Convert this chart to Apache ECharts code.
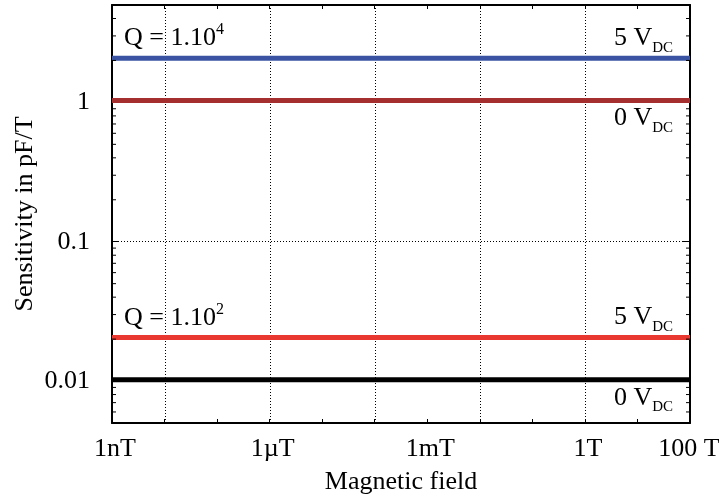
<!DOCTYPE html>
<html>
<head>
<meta charset="utf-8">
<script src="https://cdn.jsdelivr.net/npm/echarts@6/dist/echarts.min.js"></script>
<style>
html,body{margin:0;padding:0;background:#fff;}
#chart{width:719px;height:501px;}
</style>
</head>
<body>
<div id="chart"></div>
<script>
// ---- data ----
const xRange = [1e-9, 1e2];                 // magnetic field span (T)
const xLabelMap = {'-9': '1nT', '-6': '1\u00b5T', '-3': '1mT', '0': '1T', '2': '100 T'};
const xGridValues = [1e-8, 1e-6, 1e-4, 1e-2, 1];
const yRange = [0.005, 5];
const yLabelValues = [0.01, 0.1, 1];
const yMinorTicks = [0.006, 0.007, 0.008, 0.009,
  0.02, 0.03, 0.04, 0.05, 0.06, 0.07, 0.08, 0.09,
  0.2, 0.3, 0.4, 0.5, 0.6, 0.7, 0.8, 0.9,
  2, 3, 4];
const xValues = [1e-9, 1e2];
const q4_5V = [2.07, 2.07];
const q4_0V = [1.03, 1.03];
const q2_5V = [0.0205, 0.0205];
const q2_0V = [0.0102, 0.0102];

const FONT = "'Liberation Serif', 'DejaVu Serif', serif";
const FS = 26;
const chart = echarts.init(document.getElementById('chart'));

function pairs(ys) { return xValues.map((x, i) => [x, ys[i]]); }

const rich = {
  sup: {fontSize: 16, fontFamily: FONT, color: '#000', verticalAlign: 'top', lineHeight: 16},
  sub: {fontSize: 15, fontFamily: FONT, color: '#000', verticalAlign: 'bottom', lineHeight: 15}
};
function annot(coord, text, side, dy) {
  return {
    coord: coord, value: 0,
    symbol: 'circle', symbolSize: 0,
    label: {
      show: true, formatter: text, position: side,
      distance: side === 'right' ? 12 : 17,
      offset: [0, dy],
      fontSize: FS, fontFamily: FONT, color: '#000', lineHeight: 34,
      rich: rich
    }
  };
}

function lineSeries(name, ys, color, marks) {
  return {
    name: name, type: 'line', data: pairs(ys), z: 5,
    showSymbol: false, symbol: 'none', silent: true,
    lineStyle: {color: color, width: 5},
    itemStyle: {color: color},
    markPoint: {silent: true, data: marks, itemStyle: {color: 'transparent'}}
  };
}

const axisLineStyle = {show: true, lineStyle: {color: '#000', width: 2}};

const option = {
  backgroundColor: '#fff',
  animation: false,
  grid: {left: 112, right: 29, top: 5, bottom: 78, containLabel: false, outerBoundsMode: 'none'},
  xAxis: [{
    type: 'log', logBase: 10, min: xRange[0], max: xRange[1], interval: 1,
    position: 'bottom',
    axisLine: axisLineStyle,
    axisTick: {show: true, inside: true, length: 4, lineStyle: {color: '#000', width: 1}},
    axisLabel: {
      show: true, margin: 13, fontSize: FS, fontFamily: FONT, color: '#000',
      padding: [0, 0, 0, 6],
      showMinLabel: true, showMaxLabel: true,
      rich: {last: {fontSize: FS, fontFamily: FONT, color: '#000', padding: [0, 8, 0, 0]}},
      formatter: function (v) {
        const k = String(Math.round(Math.log10(v)));
        const t = xLabelMap[k] || '';
        return k === '2' ? '{last|' + t + '}' : t;
      }
    },
    splitLine: {show: false},
    name: 'Magnetic field', nameLocation: 'middle', nameGap: 46, nameMoveOverlap: false,
    nameTextStyle: {fontSize: FS, fontFamily: FONT, color: '#000'}
  }, {
    type: 'log', logBase: 10, min: xRange[0], max: xRange[1], interval: 1,
    position: 'top',
    axisLine: axisLineStyle,
    axisTick: {show: true, inside: true, length: 4, lineStyle: {color: '#000', width: 1}},
    axisLabel: {show: false},
    splitLine: {show: false}
  }],
  yAxis: [{
    type: 'log', logBase: 10, min: yRange[0], max: yRange[1],
    position: 'left',
    axisLine: axisLineStyle,
    axisTick: {show: true, inside: true, length: 7, lineStyle: {color: '#000', width: 1}},
    axisLabel: {
      show: true, margin: 22, fontSize: FS, fontFamily: FONT, color: '#000',
      formatter: function (v) {
        for (const t of yLabelValues) { if (Math.abs(Math.log10(v) - Math.log10(t)) < 1e-6) return String(t); }
        return '';
      }
    },
    splitLine: {show: true, lineStyle: {color: '#000', width: 1, type: [1, 2]}},
    name: 'Sensitivity in pF/T', nameLocation: 'middle', nameGap: 74, nameMoveOverlap: false,
    nameTextStyle: {fontSize: FS, fontFamily: FONT, color: '#000'}
  }, {
    type: 'log', logBase: 10, min: yRange[0], max: yRange[1],
    position: 'right',
    axisLine: axisLineStyle,
    axisTick: {show: true, inside: true, length: 7, lineStyle: {color: '#000', width: 1}},
    axisLabel: {show: false},
    splitLine: {show: false}
  }],
  series: [
    {
      name: 'xgrid', type: 'custom', z: 1, silent: true,
      data: xGridValues.map(v => [v, yRange[0]]),
      encode: {x: 0, y: 1},
      renderItem: function (params, api) {
        const v = api.value(0);
        const b = api.coord([v, yRange[0]]);
        const t = api.coord([v, yRange[1]]);
        return {type: 'line', shape: {x1: Math.round(b[0]) + 0.5, y1: b[1], x2: Math.round(t[0]) + 0.5, y2: t[1]},
          style: {stroke: '#000', lineWidth: 1, lineDash: [1, 2]}};
      }
    },
    {
      name: 'minor', type: 'custom', z: 6, silent: true,
      data: yMinorTicks.map(v => [xRange[0], v]),
      encode: {x: 0, y: 1},
      renderItem: function (params, api) {
        const v = api.value(1);
        const l = api.coord([xRange[0], v]);
        const r = api.coord([xRange[1], v]);
        return {type: 'group', children: [
          {type: 'line', shape: {x1: l[0], y1: l[1], x2: l[0] + 4, y2: l[1]}, style: {stroke: '#000', lineWidth: 1}},
          {type: 'line', shape: {x1: r[0] - 4, y1: r[1], x2: r[0], y2: r[1]}, style: {stroke: '#000', lineWidth: 1}}
        ]};
      }
    },
    lineSeries('Q1e4 5V', q4_5V, '#3a54a3', [
      annot([xRange[0], q4_5V[0]], 'Q = 1.10{sup|4}', 'right', -20),
      annot([xRange[1], q4_5V[1]], '5 V{sub|DC}', 'left', -20)
    ]),
    lineSeries('Q1e4 0V', q4_0V, '#a52e2f', [
      annot([xRange[1], q4_0V[1]], '0 V{sub|DC}', 'left', 18)
    ]),
    lineSeries('Q1e2 5V', q2_5V, '#e8382f', [
      annot([xRange[0], q2_5V[0]], 'Q = 1.10{sup|2}', 'right', -19),
      annot([xRange[1], q2_5V[1]], '5 V{sub|DC}', 'left', -20)
    ]),
    lineSeries('Q1e2 0V', q2_0V, '#000000', [
      annot([xRange[1], q2_0V[1]], '0 V{sub|DC}', 'left', 18)
    ])
  ]
};
chart.setOption(option);
</script>
</body>
</html>
